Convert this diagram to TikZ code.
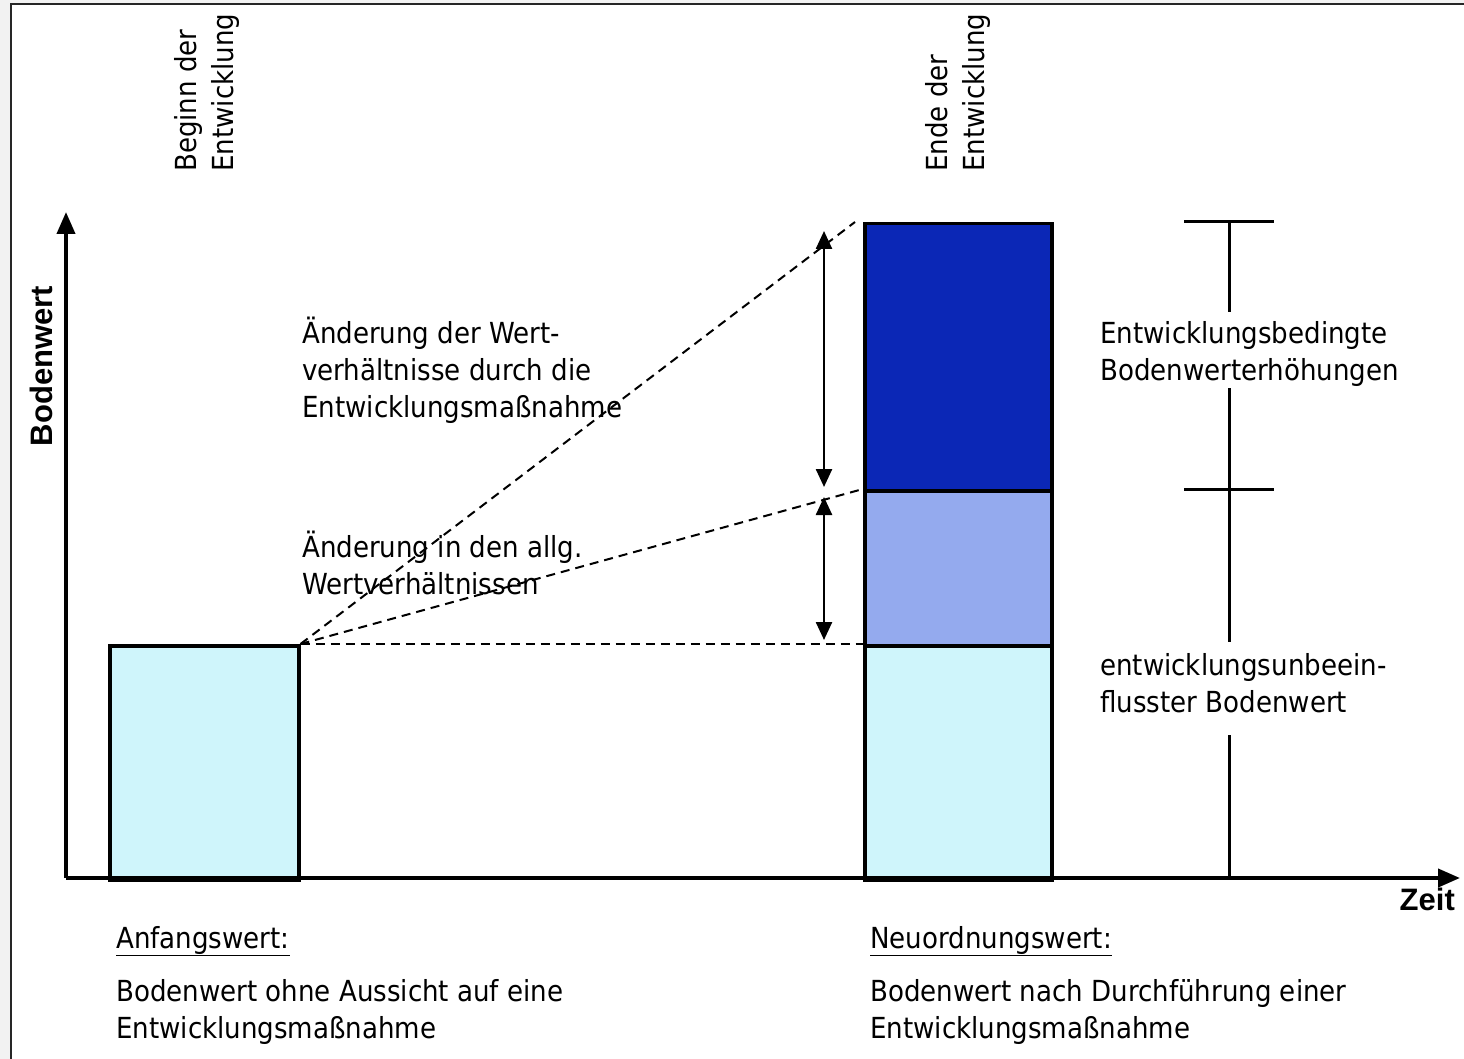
\documentclass[tikz,border=0pt]{standalone}
\usepackage{fontspec}
\setmainfont{DejaVu Sans Condensed}
\newfontfamily\axisfont{Liberation Sans}
\usetikzlibrary{arrows.meta}
\definecolor{lightc}{HTML}{CFF5FB}
\definecolor{midb}{HTML}{94AAEE}
\definecolor{darkb}{HTML}{0B27B6}
\definecolor{outgray}{HTML}{F2F2F2}
\tikzset{
  lbl/.style={inner sep=0pt, anchor=base west, align=left, font=\fontsize{29}{37}\selectfont},
  rlbl/.style={lbl, rotate=90},
  axlbl/.style={inner sep=0pt, font=\axisfont\bfseries\fontsize{31}{36}\selectfont},
  bar/.style={draw=black, line width=3.5pt},
  axis/.style={line width=4pt, -{Triangle[length=22pt,width=18pt]}},
  dimarrow/.style={line width=2.5pt, {Triangle[length=18pt,width=16pt]}-{Triangle[length=18pt,width=16pt]}},
  guide/.style={dashed, line width=2pt, dash pattern=on 9pt off 6pt},
  brace/.style={line width=3pt}
}
\begin{document}
\begin{tikzpicture}[x=1pt,y=-1pt]
\useasboundingbox (0,0) rectangle (1464,1059);
% frame
\fill[outgray] (0,0) rectangle (1464,1059);
\fill[white] (11,4) rectangle (1464,1059);
\draw[line width=2.5pt, black!85] (11,1059) -- (11,4) -- (1464,4);

% bars
\node[bar, fill=lightc, minimum width=189pt, minimum height=234pt, inner sep=0pt, anchor=north west] (start) at (108,644) {};
\node[bar, fill=darkb, minimum width=187pt, minimum height=267pt, inner sep=0pt, anchor=north west] (top) at (863,222) {};
\node[bar, fill=midb, minimum width=187pt, minimum height=155pt, inner sep=0pt, anchor=north west] (mid) at (863,489) {};
\node[bar, fill=lightc, minimum width=187pt, minimum height=234pt, inner sep=0pt, anchor=north west] (base) at (863,644) {};

% axes
\coordinate (origin) at (66,878);
\coordinate (ytip) at (66,212);
\coordinate (xtip) at (1460,878);
\draw[axis] (origin) -- (ytip);
\draw[axis] (origin) -- (xtip);
\node[axlbl, rotate=90, anchor=base] (ylab) at (52,366) {Bodenwert};
\node[axlbl, anchor=base east] (xlab) at (1455,910) {Zeit};

% dashed guides
\draw[guide] (start.north east) -- (base.north west);
\draw[guide] (start.north east) -- (mid.north west);
\draw[guide] (start.north east) -- ([xshift=-8pt]top.north west);

% dimension arrows
\coordinate (a1t) at (824,231);
\coordinate (a1b) at (824,487);
\coordinate (a2t) at (824,497);
\coordinate (a2b) at (824,640);
\draw[dimarrow] (a1t) -- (a1b);
\draw[dimarrow] (a2t) -- (a2b);

% right bracket
\coordinate (b1) at (1229,222);
\coordinate (b2) at (1229,312);
\coordinate (b3) at (1229,388);
\coordinate (b4) at (1229,489);
\coordinate (b5) at (1229,642);
\coordinate (b6) at (1229,735);
\coordinate (b7) at (1229,878);
\draw[brace] (1184,222) -- (1274,222);
\draw[brace] (1184,489) -- (1274,489);
\draw[brace] (b1) -- (b2);
\draw[brace] (b3) -- (b4) -- (b5);
\draw[brace] (b6) -- (b7);

% vertical labels
\node[rlbl] (beg) at (233,172) {Beginn der\\Entwicklung};
\node[rlbl] (end) at (984,172) {Ende der\\Entwicklung};

% texts
\node[lbl] (t1) at (302,417) {Änderung der Wert-\\verhältnisse durch die\\Entwicklungsmaßnahme};
\node[lbl] (t2) at (302,594) {Änderung in den allg.\\Wertverhältnissen};
\node[lbl] (t3) at (1100,380) {Entwicklungsbedingte\\Bodenwerterhöhungen};
\node[lbl] (t4) at (1100,712) {entwicklungsunbeein-\\flusster Bodenwert};

\node[lbl] (aw) at (116,948) {\underline{Anfangswert:}};
\node[lbl] (awt) at (116,1038) {Bodenwert ohne Aussicht auf eine\\Entwicklungsmaßnahme};
\node[lbl] (nw) at (870,948) {\underline{Neuordnungswert:}};
\node[lbl] (nwt) at (870,1038) {Bodenwert nach Durchführung einer\\Entwicklungsmaßnahme};
\end{tikzpicture}
\end{document}
